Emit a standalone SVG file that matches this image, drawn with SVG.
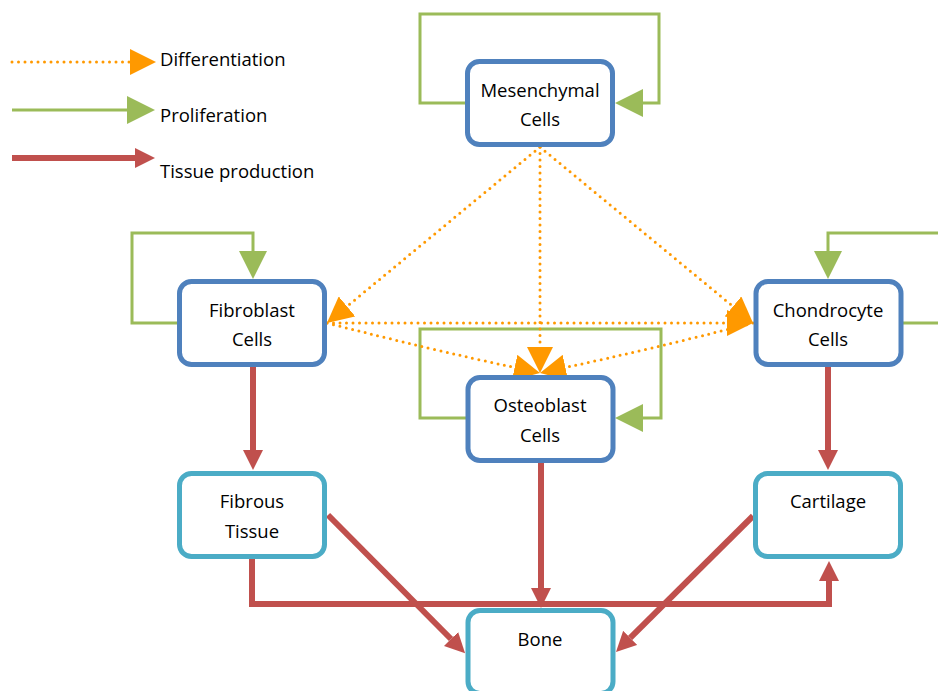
<svg xmlns="http://www.w3.org/2000/svg" width="938" height="691" viewBox="0 0 938 691">
<defs>
<style>
.cell{fill:#fff;stroke:#4F81BD;stroke-width:5}
.tissue{fill:#fff;stroke:#4BACC6;stroke-width:5}
.lbl{font-family:"Open Sans","Liberation Sans",sans-serif;font-size:18.5px;fill:#000;text-anchor:middle}
.leg{font-family:"Open Sans","Liberation Sans",sans-serif;font-size:18.5px;fill:#000}
.diff{fill:none;stroke:#FF9900;stroke-width:3;stroke-linecap:round;stroke-dasharray:0 6.5;marker-end:url(#ao)}
.prol{fill:none;stroke:#9BBB59;stroke-width:3;marker-end:url(#ag)}
.tis{fill:none;stroke:#C0504D;stroke-width:6;marker-end:url(#ar)}
</style>
<marker id="ao" markerUnits="userSpaceOnUse" markerWidth="26" markerHeight="26" refX="0" refY="13" orient="auto"><path d="M0,0 L26,13 L0,26 Z" fill="#FF9900"/></marker>
<marker id="ag" markerUnits="userSpaceOnUse" markerWidth="28" markerHeight="28" refX="0" refY="14" orient="auto"><path d="M0,0 L28,14 L0,28 Z" fill="#9BBB59"/></marker>
<marker id="ar" markerUnits="userSpaceOnUse" markerWidth="20" markerHeight="20" refX="0" refY="10" orient="auto"><path d="M0,0 L20,10 L0,20 Z" fill="#C0504D"/></marker>
</defs>
<rect width="938" height="691" fill="#fff"/>

<g id="legend">
<path class="diff" d="M12,62 H130"/>
<text class="leg" x="160" y="66">Differentiation</text>
<path class="prol" d="M12,110 H127"/>
<text class="leg" x="160" y="122">Proliferation</text>
<path class="tis" d="M12,158 H135"/>
<text class="leg" x="160" y="178">Tissue production</text>
</g>

<g id="connectors">
<path class="prol" d="M467,103 H420 V14 H659 V103 H643"/>
<path class="prol" d="M179,323 H132 V233 H253 V251"/>
<path class="prol" d="M903,323 H960 V233 H828 V251"/>
<path class="prol" d="M468,418 H420 V329 H661 V418 H643"/>
<path class="diff" d="M540,147 L347,306.4"/>
<path class="diff" d="M540,147 L733,306.4"/>
<path class="diff" d="M540,147 V347"/>
<path class="diff" d="M327,323 H727"/>
<path class="diff" d="M327,323 Q433,350 514.6,367.5"/>
<path class="diff" d="M753,323 Q647,350 565.4,367.5"/>
<path class="tis" d="M253,367 V450"/>
<path class="tis" d="M828,367 V450"/>
<path class="tis" d="M541,463 V588"/>
<path class="tis" d="M252,559 V604 H829 V581"/>
<path class="tis" d="M328,515 L451,639"/>
<path class="tis" d="M753,516 L630.2,637.9"/>
</g>

<g id="mesenchymal">
<rect class="cell" x="467.5" y="61.5" width="145" height="83" rx="12"/>
<text class="lbl" x="540" y="97">Mesenchymal</text>
<text class="lbl" x="540" y="126">Cells</text>
</g>
<g id="fibroblast">
<rect class="cell" x="179.5" y="281.5" width="145" height="83" rx="12"/>
<text class="lbl" x="252" y="317">Fibroblast</text>
<text class="lbl" x="252" y="346">Cells</text>
</g>
<g id="chondrocyte">
<rect class="cell" x="756" y="281.5" width="145" height="83" rx="12"/>
<text class="lbl" x="828" y="317">Chondrocyte</text>
<text class="lbl" x="828" y="346">Cells</text>
</g>
<g id="osteoblast">
<rect class="cell" x="468" y="377.5" width="145" height="83" rx="12"/>
<text class="lbl" x="540" y="412">Osteoblast</text>
<text class="lbl" x="540" y="442">Cells</text>
</g>
<g id="fibrous">
<rect class="tissue" x="179.5" y="473.5" width="145" height="83" rx="12"/>
<text class="lbl" x="252" y="508">Fibrous</text>
<text class="lbl" x="252" y="538">Tissue</text>
</g>
<g id="cartilage">
<rect class="tissue" x="755.5" y="473.5" width="145" height="83" rx="12"/>
<text class="lbl" x="828" y="508">Cartilage</text>
</g>
<g id="bone">
<rect class="tissue" x="468" y="610.5" width="145" height="83" rx="12"/>
<text class="lbl" x="540" y="646">Bone</text>
</g>
</svg>
